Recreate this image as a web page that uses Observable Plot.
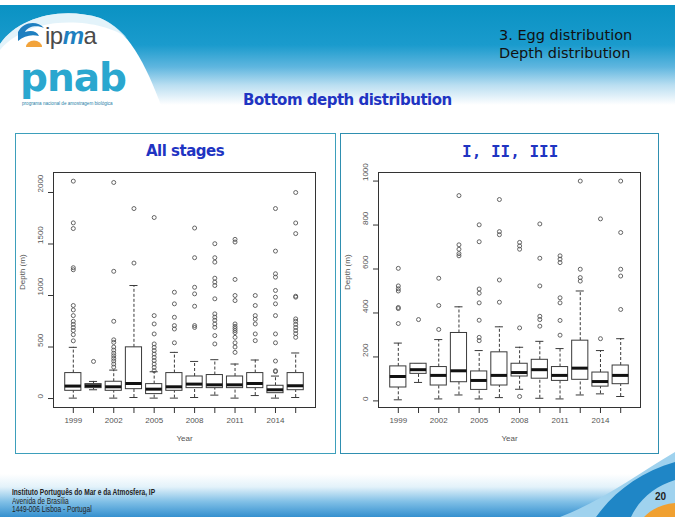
<!DOCTYPE html>
<html>
<head>
<meta charset="utf-8">
<script src="https://cdn.jsdelivr.net/npm/d3@7"></script>
<script src="https://cdn.jsdelivr.net/npm/@observablehq/plot@0.6"></script>
<style>
  html, body { margin:0; padding:0; background:#fff; }
  #slide { position:relative; width:675px; height:517px; overflow:hidden; background:#fff; font-family:"Liberation Sans", Arial, sans-serif; }
  .abs { position:absolute; }
  #hdr { left:0; top:5px; width:675px; height:100px;
    background:linear-gradient(to bottom, #0a92c3 0%, #1a9bcd 40%, #5fb6df 62%, #b9def1 80%, #ffffff 100%); }
  #ftr { left:0; top:474px; width:675px; height:43px;
    background:linear-gradient(to bottom, #ffffff 0%, #e3f2fa 30%, #7fbfe6 65%, #3590cf 100%); }
  .panel { top:133px; height:321px; border:1.5px solid #3d9fbb; background:#fff; box-sizing:border-box; }
  .ptitle { font-weight:bold; color:#1f34c2; font-size:16px; white-space:nowrap; }
  svg.chart { position:absolute; background:transparent; overflow:visible; }
</style>
</head>
<body>
<div id="slide">
  <div id="hdr" class="abs"></div>
  <svg class="abs" style="left:0;top:0" width="675" height="517">
    <path d="M0,44 C18,18 60,6 100,18 C128,30 145,62 162,108 L0,108 Z" fill="#ffffff"/>
    <path d="M0,44 C18,18 60,6 100,18 C112,23 120,30 127,38 C110,24 70,18 40,26 C22,31 8,40 0,50 Z" fill="#d7eef8" opacity="0.7"/>
    <path d="M18,32 C23,22 37,20 44,28 C37,25 28,26 25,32 C31,30 37,31 39,36 C31,34 24,36 18,41 Z" fill="#1e7fc0"/>
    <path d="M26,47 A8,6.5 0 0 1 42,47 Z" fill="#f2a33a"/>
  </svg>
  <div class="abs" style="left:45px;top:22px;font-size:24px;line-height:28px;font-family:'Liberation Sans',sans-serif;color:#4b4b4b;letter-spacing:-0.5px">ip<span style="color:#1e7fc0;font-style:italic;font-weight:bold">m</span>a</div>
  <div class="abs" style="left:20px;top:61px;font-size:39px;font-weight:bold;font-family:'DejaVu Sans',sans-serif;color:#2aa7cf;letter-spacing:-1px;line-height:34px;height:34px">pnab</div>
  <div class="abs" style="left:22px;top:101px;font-size:4.6px;line-height:5px;color:#2a7fa8;white-space:nowrap">programa nacional de amostragem biológica</div>

  <div class="abs" style="left:499px;top:26px;font-size:14.5px;line-height:18px;color:#111;font-family:'DejaVu Sans',sans-serif;white-space:nowrap">3. Egg distribution<br>Depth distribution</div>
  <div class="abs" style="left:243px;top:91px;font-size:15px;font-weight:bold;color:#1f34c2;white-space:nowrap;font-family:'DejaVu Sans',sans-serif;letter-spacing:-0.5px">Bottom depth distribution</div>

  <div class="abs panel" style="left:15px;width:321px;"></div>
  <div class="abs panel" style="left:340px;width:319px;border-color:#2f8fb0"></div>
  <div class="abs ptitle" style="left:146px;top:142px;font-family:'DejaVu Sans',sans-serif;font-size:15px;letter-spacing:-0.5px">All stages</div>
  <div class="abs ptitle" style="left:462px;top:142px;font-family:'DejaVu Sans Mono',monospace;font-size:16px">I, II, III</div>

  <div id="ftr" class="abs"></div>
  <svg class="abs" style="left:0;top:0" width="675" height="517">
    <path d="M560,517 C600,502 638,474 675,452 L675,517 Z" fill="#9fd2ee"/>
    <path d="M596,517 C614,492 640,472 675,462 L675,480 C656,486 640,498 631,517 Z" fill="#1f86c6"/>
    <path d="M644,517 C653,508 663,504 675,503 L675,517 Z" fill="#f0a030"/>
  </svg>
  <div class="abs" style="left:12px;top:488px;font-size:8.8px;line-height:8.6px;color:#222;white-space:nowrap;transform:scaleX(0.75);transform-origin:left top">
    <b>Instituto Português do Mar e da Atmosfera, IP</b><br>Avenida de Brasília<br>1449-006 Lisboa - Portugal
  </div>
  <div class="abs" style="left:655px;top:491px;font-size:10px;font-weight:bold;color:#222">20</div>

  <div id="c1"></div>
  <div id="c2"></div>
</div>
<script>
// ---- categories (survey years; only every other label is shown) ----
const years = ["1999","2000","2002","2004","2005","2007","2008","2010","2011","2013","2014","2016"];

// ---- All stages: box statistics (depth, m) ----
const allLo  = [4, 85, 4, 10, 4, 4, 10, 33, 4, 29, 4, 10];
const allQ1  = [75, 101, 75, 91, 43, 75, 101, 101, 101, 101, 52, 81];
const allMed = [121, 124, 114, 146, 91, 114, 140, 133, 133, 146, 85, 124];
const allQ3  = [247, 140, 163, 497, 140, 247, 214, 228, 214, 247, 124, 247];
const allHi  = [497, 166, 276, 1097, 260, 448, 360, 377, 335, 374, 218, 442];
const allOut = [
  [2110, 1705, 1650, 1270, 1250, 903, 860, 805, 750, 720, 690, 660, 620, 560],
  [360],
  [2097, 1235, 750, 570, 545, 500, 470, 440, 415, 390, 365, 335, 305],
  [1844, 1315],
  [1757, 805, 724, 627, 530, 497, 465, 432, 400, 368, 335, 303, 270],
  [1032, 919, 789, 708, 675, 541],
  [1655, 1367, 1080, 1016, 896, 708, 690],
  [1503, 1367, 1324, 1168, 1130, 1097, 968, 822, 790, 760, 724, 691, 611, 530],
  [1545, 1519, 1156, 1000, 951, 724, 700, 680, 660, 640, 594, 541, 500, 448],
  [1000, 903, 805, 770, 724, 627, 562],
  [1844, 1431, 1211, 1178, 1049, 984, 919, 805, 627, 541, 364, 270, 262],
  [2000, 1704, 1601, 993, 984, 773, 750, 720, 690, 660, 630, 594]
];

// ---- Stages I, II, III: box statistics (depth, m) ----
const stLo  = [5, 84, 9, 27, 9, 15, 53, 12, 9, 27, 32, 20];
const stQ1  = [61, 123, 70, 85, 50, 70, 111, 101, 91, 96, 65, 76];
const stMed = [111, 142, 116, 137, 93, 116, 129, 142, 116, 149, 88, 116];
const stQ3  = [157, 169, 154, 309, 134, 221, 169, 187, 154, 274, 129, 161];
const stHi  = [263, 169, 279, 428, 229, 337, 244, 271, 238, 500, 229, 283];
const stOut = [
  [603, 523, 510, 500, 425, 420, 352],
  [370],
  [558, 434, 325],
  [934, 710, 690, 670, 660],
  [801, 724, 509, 490, 446, 367, 289, 274],
  [916, 770, 756, 550, 449],
  [721, 705, 690, 332, 20],
  [805, 649, 523, 385, 370, 340],
  [660, 645, 629, 469, 446, 366, 299],
  [1000, 599, 561, 545],
  [828, 283],
  [1000, 766, 599, 568, 416]
];

const allTicks = [0, 500, 1000, 1500, 2000];
const stTicks  = [0, 200, 400, 600, 800, 1000];

function boxChart(lo, q1, med, q3, hi, out, yDomain, yTicks) {
  const rows = years.map((y, i) => ({i: i + 1, lo: lo[i], q1: q1[i], med: med[i], q3: q3[i], hi: hi[i]}));
  const pts = out.flatMap((arr, i) => arr.map(v => ({i: i + 1, v})));
  const ink = "#3a3a3a";
  return Plot.plot({
    width: 318, height: 290,
    marginLeft: 38, marginRight: 18, marginTop: 7, marginBottom: 48,
    x: {type: "linear", domain: [0.02, 12.98]},
    y: {domain: yDomain},
    style: {fontFamily: "'Liberation Sans', Arial, sans-serif", fontSize: "8px", color: "#555", background: "transparent"},
    marks: [
      Plot.ruleX(rows, {x: "i", y1: "q3", y2: "hi", stroke: ink, strokeDasharray: "3,2"}),
      Plot.ruleX(rows, {x: "i", y1: "lo", y2: "q1", stroke: ink, strokeDasharray: "3,2"}),
      Plot.ruleY(rows, {y: "hi", x1: d => d.i - 0.2, x2: d => d.i + 0.2, stroke: ink}),
      Plot.ruleY(rows, {y: "lo", x1: d => d.i - 0.2, x2: d => d.i + 0.2, stroke: ink}),
      Plot.rect(rows, {x1: d => d.i - 0.4, x2: d => d.i + 0.4, y1: "q1", y2: "q3", fill: "white", stroke: ink}),
      Plot.ruleY(rows, {y: "med", x1: d => d.i - 0.4, x2: d => d.i + 0.4, stroke: "#111", strokeWidth: 3}),
      Plot.dot(pts, {x: "i", y: "v", r: 2, stroke: "#555", strokeWidth: 0.9}),
      Plot.frame({stroke: "#333"}),
      Plot.axisX({ticks: d3.range(1, 13), tickFormat: i => (i % 2 === 1 ? years[i - 1] : ""), tickSize: 6, tickPadding: 4, label: null, stroke: "#333"}),
      Plot.axisY({ticks: yTicks, tickFormat: () => "", tickSize: 5, label: null, stroke: "#333"}),
      Plot.text(yTicks, {y: d => d, text: d => String(d), frameAnchor: "left", dx: -13, rotate: -90, fill: "#555"}),
      Plot.text(["Year"], {frameAnchor: "bottom", dy: 33, fill: "#555"}),
      Plot.text(["Depth (m)"], {frameAnchor: "left", dx: -31, rotate: -90, fill: "#555"})
    ]
  });
}

const c1 = boxChart(allLo, allQ1, allMed, allQ3, allHi, allOut, [-87, 2194], allTicks);
c1.classList.add("chart");
c1.style.left = "15px"; c1.style.top = "165px";
document.getElementById("c1").appendChild(c1);

const c2 = boxChart(stLo, stQ1, stMed, stQ3, stHi, stOut, [-30, 1039], stTicks);
c2.classList.add("chart");
c2.style.left = "340px"; c2.style.top = "165px";
document.getElementById("c2").appendChild(c2);
</script>
</body>
</html>
